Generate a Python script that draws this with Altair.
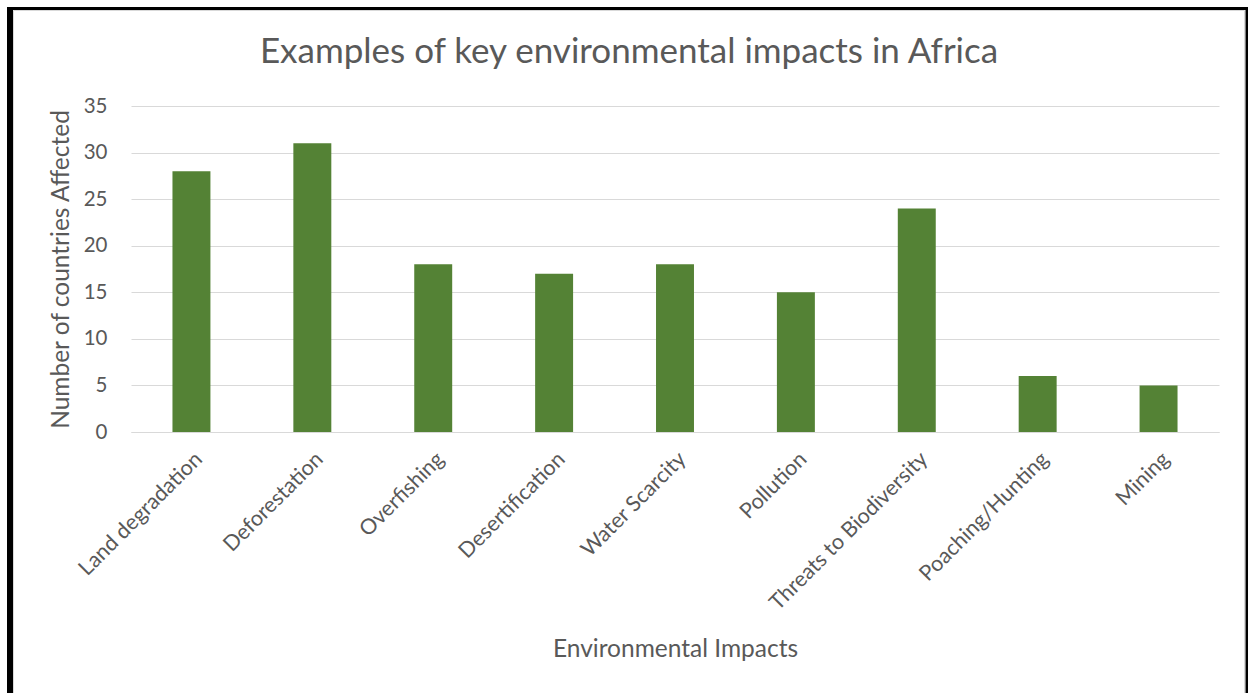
import altair as alt
import pandas as pd

categories = ["Land degradation", "Deforestation", "Overfishing", "Desertification",
              "Water Scarcity", "Pollution", "Threats to Biodiversity",
              "Poaching/Hunting", "Mining"]
values = [28, 31, 18, 17, 18, 15, 24, 6, 5]
y_ticks = [0, 5, 10, 15, 20, 25, 30, 35]
title_text = "Examples of key environmental impacts in Africa"

df = pd.DataFrame({"Impact": categories, "Countries": values})
one = pd.DataFrame({"t": [title_text]})

FONT = "Lato"
TXT = "#595959"
GRID = "#d9d9d9"
GREEN = "#548235"

bars = alt.Chart(df).mark_bar(color=GREEN).encode(
    x=alt.X("Impact:N", sort=categories,
            scale=alt.Scale(paddingInner=0.686, paddingOuter=0.343),
            axis=alt.Axis(title="Environmental Impacts", labelAngle=-45,
                          labelAlign="right", labelBaseline="top",
                          labelPadding=16, ticks=False, domainColor=GRID,
                          domainWidth=1, labelFont=FONT, labelFontSize=21.5,
                          labelColor=TXT, titleFont=FONT, titleFontSize=24.5,
                          titleFontWeight="normal", titleColor=TXT,
                          titlePadding=24, labelLimit=400)),
    y=alt.Y("Countries:Q", scale=alt.Scale(domain=[0, 35], nice=False),
            axis=alt.Axis(title="Number of countries Affected", values=y_ticks,
                          ticks=False, domain=False, gridColor=GRID, gridWidth=1,
                          labelPadding=24, labelFont=FONT, labelFontSize=20.5,
                          labelColor=TXT, titleFont=FONT, titleFontSize=24.5,
                          titleFontWeight="normal", titleColor=TXT,
                          titlePadding=10)),
)

def rect(x, x2, y, y2, **kw):
    return alt.Chart(one).mark_rect(**kw).encode(
        x=alt.value(x), x2=alt.value(x2), y=alt.value(y), y2=alt.value(y2))

inner = rect(-117.5, 1113.5, -95.5, 600, fill=None, stroke=GRID, strokeWidth=1)
left = rect(-124, -118, -99, 587, color="black")
top = rect(-124, 1117, -99, -96, color="black")
right = rect(1114.5, 1117, -99, 587, color="black")

title = alt.Chart(one).mark_text(font=FONT, fontSize=35, color=TXT,
                                 align="center", baseline="alphabetic").encode(
    x=alt.value(498), y=alt.value(-43), text="t:N")

chart = alt.layer(inner, left, top, right, bars, title).properties(
    width=1088, height=326,
    autosize=alt.AutoSizeParams(type="none"),
    padding={"left": 131, "top": 106, "right": 29, "bottom": 261},
    background="white",
).configure_view(stroke=None)

chart.save("out.html", embed_options={"renderer": "svg", "actions": False})
